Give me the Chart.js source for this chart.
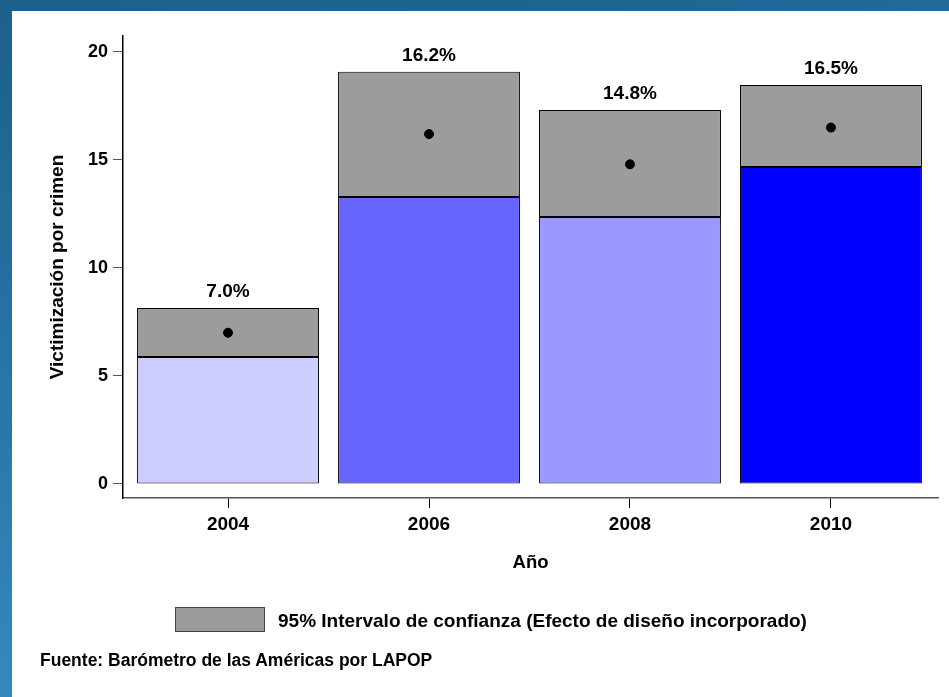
<!DOCTYPE html>
<html lang="es">
<head>
  <meta charset="UTF-8">
  <title>Victimización por crimen</title>
  <script src="https://cdn.jsdelivr.net/npm/chart.js"></script>
  <style>
    html, body {
      margin: 0;
      padding: 0;
      width: 949px;
      height: 697px;
      overflow: hidden;
      font-family: "Liberation Sans", Arial, sans-serif;
      background: linear-gradient(170deg, #1b5f8d 0%, #2a78aa 50%, #3d93c8 100%);
    }
    .panel {
      position: absolute;
      left: 12px;
      top: 11px;
      right: 0;
      bottom: 0;
      background: #fff;
    }
    #chart {
      position: absolute;
      left: 0;
      top: 0;
    }
    .legend-box {
      position: absolute;
      left: 175px;
      top: 607px;
      width: 88px;
      height: 23px;
      background: #9c9c9c;
      border: 1px solid #444;
    }
    .legend-text {
      position: absolute;
      left: 278px;
      top: 610px;
      font-size: 19px;
      font-weight: bold;
      color: #000;
    }
    .source {
      position: absolute;
      left: 40px;
      top: 650px;
      font-size: 17.5px;
      font-weight: bold;
      color: #000;
    }
  </style>
</head>
<body>
  <div class="panel"></div>
  <canvas id="chart" width="949" height="697"></canvas>
  <div class="legend-box"></div>
  <div class="legend-text">95% Intervalo de confianza (Efecto de diseño incorporado)</div>
  <div class="source">Fuente: Barómetro de las Américas por LAPOP</div>

  <script>
    // data
    const years = [2004, 2006, 2008, 2010];
    const means = [7.0, 16.2, 14.8, 16.5];
    const ciLow = [5.88, 13.29, 12.36, 14.68];
    const ciHigh = [8.15, 19.09, 17.31, 18.47];
    const barColors = ['#ccccff', '#6666ff', '#9999ff', '#0000ff'];

    // percentage labels above each bar
    const topLabels = {
      id: 'topLabels',
      afterDatasetsDraw(chart) {
        const ctx = chart.ctx;
        const x = chart.scales.x, y = chart.scales.y;
        ctx.save();
        ctx.font = 'bold 19px "Liberation Sans", Arial, sans-serif';
        ctx.fillStyle = '#000';
        ctx.textAlign = 'center';
        ctx.textBaseline = 'middle';
        years.forEach(function(yr, i) {
          ctx.fillText(means[i].toFixed(1) + '%', x.getPixelForValue(yr), y.getPixelForValue(ciHigh[i]) - 16);
        });
        ctx.restore();
      }
    };

    Chart.defaults.color = '#000';
    Chart.defaults.font.family = '"Liberation Sans", Arial, sans-serif';
    Chart.defaults.font.weight = 'bold';

    new Chart(document.getElementById('chart'), {
      type: 'bar',
      data: {
        datasets: [
          {
            label: 'Media',
            type: 'line',
            data: years.map(function(yr, i) { return { x: yr, y: means[i] }; }),
            showLine: false,
            pointRadius: 4.5,
            pointBackgroundColor: '#000',
            pointBorderColor: '#000',
            order: 1
          },
          {
            label: '95% Intervalo de confianza',
            data: years.map(function(yr, i) { return { x: yr, y: [ciLow[i], ciHigh[i]] }; }),
            backgroundColor: '#9c9c9c',
            borderColor: '#000',
            borderWidth: 1,
            borderSkipped: false,
            grouped: false,
            categoryPercentage: 1,
            barPercentage: 0.905,
            order: 2
          },
          {
            label: 'Base',
            data: years.map(function(yr, i) { return { x: yr, y: ciLow[i] }; }),
            backgroundColor: barColors,
            borderColor: '#000',
            borderWidth: 1,
            borderSkipped: false,
            grouped: false,
            categoryPercentage: 1,
            barPercentage: 0.905,
            order: 3
          }
        ]
      },
      options: {
        responsive: false,
        animation: false,
        layout: { padding: { left: 40, top: 36, right: 11, bottom: 123 } },
        plugins: {
          legend: { display: false },
          tooltip: { enabled: false }
        },
        scales: {
          x: {
            type: 'linear',
            min: 2002.955,
            max: 2011.065,
            offset: false,
            afterFit: function(s) { s.height = 76; },
            grid: { drawOnChartArea: false, tickLength: 10, color: '#000', offset: false },
            border: { color: '#555', width: 1.5 },
            ticks: {
              stepSize: 2,
              includeBounds: false,
              font: { size: 19, weight: 'bold' },
              padding: 5,
              callback: function(v) { return String(v); }
            },
            title: { display: true, text: 'Año', font: { size: 18.5, weight: 'bold' }, padding: { top: 0, bottom: 0 } }
          },
          y: {
            min: -0.65,
            max: 20.74,
            afterFit: function(s) { s.width = 83; },
            grid: { drawOnChartArea: false, tickLength: 10, color: '#555' },
            border: { color: '#000', width: 1.5 },
            ticks: { stepSize: 5, includeBounds: false, font: { size: 18, weight: 'bold' }, padding: 5 },
            title: { display: true, text: 'Victimización por crimen', font: { size: 19, weight: 'bold' }, padding: { top: 6, bottom: 0 } }
          }
        }
      },
      plugins: [topLabels]
    });
  </script>
</body>
</html>
